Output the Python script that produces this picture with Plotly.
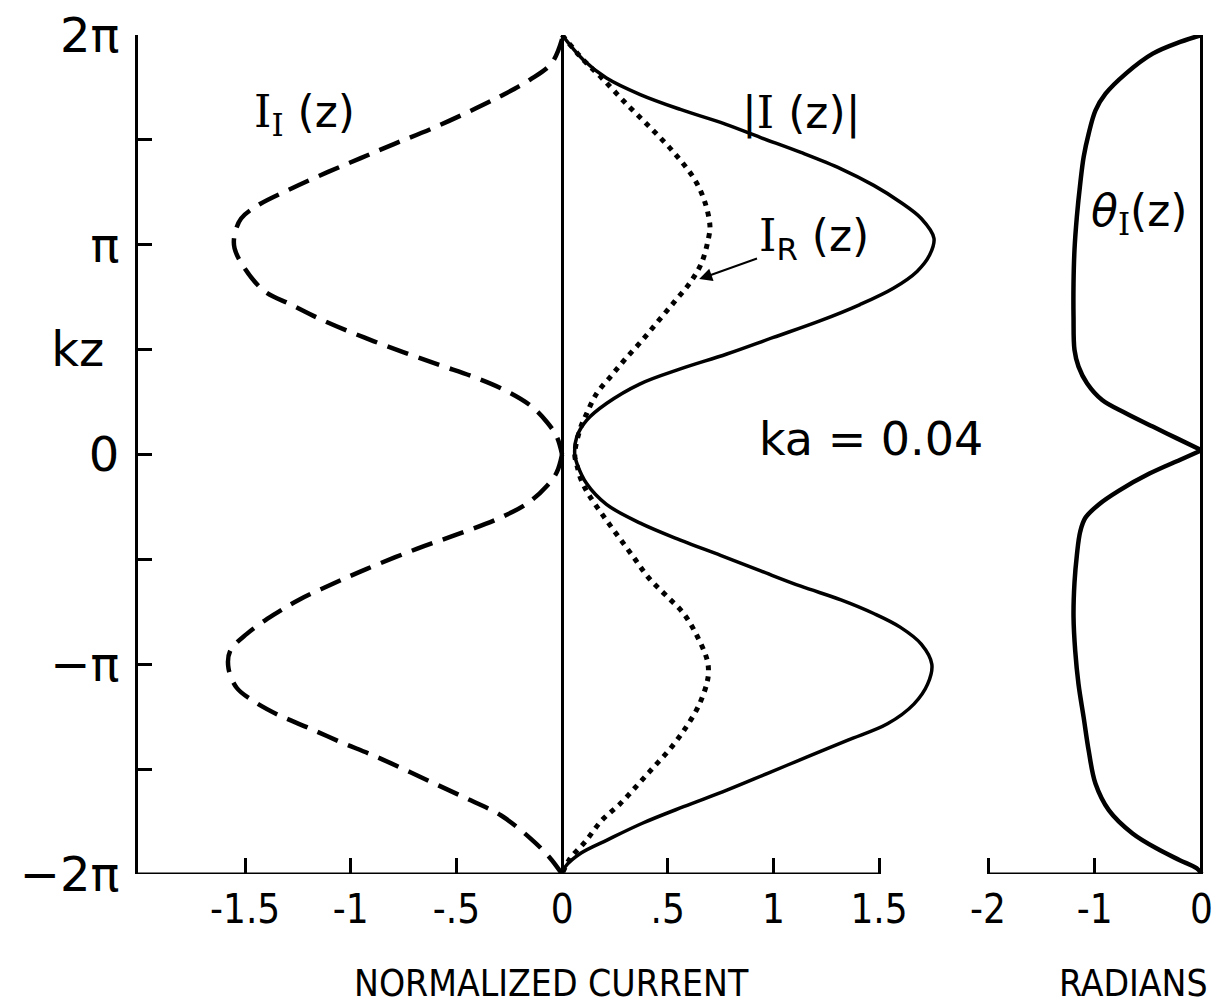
import numpy as np
import plotly.graph_objects as go

PI = np.pi

# kz values are given in units of pi; currents are normalized, phase in radians.

# |I(z)|  (solid)
abs_up_kz = [2.0, 1.882, 1.795, 1.716, 1.645, 1.583, 1.511, 1.44, 1.362, 1.283, 1.204,
             1.125, 1.031, 0.952, 0.873, 0.794, 0.715, 0.637, 0.558, 0.479, 0.408, 0.337,
             0.243, 0.164, 0.085, 0.0]
abs_up_val = [0.0, 0.10, 0.21, 0.37, 0.56, 0.75, 0.94, 1.13, 1.32, 1.475, 1.60,
              1.70, 1.76, 1.74, 1.68, 1.57, 1.41, 1.22, 1.0, 0.78, 0.56, 0.37,
              0.21, 0.117, 0.07, 0.06]
abs_lo_kz = [0.0, -0.042, -0.14, -0.238, -0.327, -0.408, -0.481, -0.555, -0.628, -0.693,
             -0.758, -0.823, -0.904, -1.0, -1.095, -1.19, -1.284, -1.363, -1.442, -1.521,
             -1.6, -1.679, -1.758, -1.837, -1.9, -1.964, -2.0]
abs_lo_val = [0.06, 0.07, 0.117, 0.21, 0.37, 0.56, 0.75, 0.94, 1.13, 1.32,
              1.475, 1.60, 1.70, 1.75, 1.73, 1.665, 1.54, 1.35, 1.16, 0.97,
              0.78, 0.575, 0.38, 0.215, 0.09, 0.016, 0.0]

# I_R(z)  (dotted)
re_up_kz = [2.0, 1.882, 1.795, 1.669, 1.551, 1.433, 1.307, 1.197, 1.087, 1.031, 0.913,
            0.818, 0.732, 0.637, 0.543, 0.456, 0.378, 0.291, 0.196, 0.12, 0.0]
re_up_val = [0.0, 0.10, 0.188, 0.307, 0.425, 0.535, 0.63, 0.678, 0.70, 0.693, 0.66,
             0.605, 0.535, 0.456, 0.378, 0.30, 0.235, 0.164, 0.117, 0.085, 0.06]
re_lo_kz = [0.0, -0.05, -0.12, -0.189, -0.294, -0.392, -0.489, -0.587, -0.668, -0.758,
            -0.863, -0.977, -1.033, -1.088, -1.199, -1.318, -1.412, -1.491, -1.57,
            -1.665, -1.744, -1.847, -1.926, -2.0]
re_lo_val = [0.06, 0.07, 0.09, 0.125, 0.196, 0.267, 0.338, 0.409, 0.488, 0.575,
             0.638, 0.686, 0.693, 0.686, 0.646, 0.575, 0.504, 0.433, 0.362,
             0.275, 0.188, 0.109, 0.038, 0.0]

# I_I(z)  (dashed)
im_up_kz = [1.98, 1.866, 1.787, 1.708, 1.63, 1.551, 1.48, 1.413, 1.346, 1.267, 1.188,
            1.125, 1.046, 0.983, 0.889, 0.779, 0.715, 0.637, 0.558, 0.487, 0.425,
            0.37, 0.31, 0.235, 0.155, 0.085, 0.0]
im_up_val = [0.0, -0.049, -0.151, -0.292, -0.45, -0.623, -0.796, -0.953, -1.11, -1.283,
             -1.44, -1.519, -1.55, -1.55, -1.503, -1.409, -1.283, -1.126, -0.937,
             -0.749, -0.575, -0.418, -0.277, -0.151, -0.072, -0.025, 0.0]
im_lo_kz = [0.0, -0.085, -0.15, -0.23, -0.305, -0.375, -0.45, -0.545, -0.615, -0.69,
            -0.765, -0.855, -0.937, -1.017, -1.112, -1.175, -1.238, -1.30, -1.37,
            -1.435, -1.507, -1.58, -1.65, -1.72, -1.83, -1.92, -2.0]
im_lo_val = [0.0, -0.025, -0.072, -0.16, -0.30, -0.48, -0.688, -0.924, -1.082, -1.24,
             -1.366, -1.492, -1.571, -1.579, -1.54, -1.461, -1.35, -1.208, -1.05,
             -0.893, -0.735, -0.58, -0.43, -0.29, -0.15, -0.06, 0.0]

# theta_I(z)  (radians, right panel)
th_up_kz = [2.0, 1.967, 1.911, 1.816, 1.72, 1.641, 1.53, 1.419, 1.292, 1.133, 0.975,
            0.816, 0.657, 0.499, 0.419, 0.34, 0.26, 0.197, 0.133, 0.078, 0.02]
th_up_val = [0.0, -0.20, -0.457, -0.709, -0.899, -0.993, -1.057, -1.104, -1.136, -1.168,
             -1.19, -1.199, -1.199, -1.19, -1.152, -1.073, -0.931, -0.709, -0.457,
             -0.235, 0.0]
th_lo_kz = [0.02, -0.026, -0.091, -0.172, -0.238, -0.302, -0.367, -0.481, -0.611, -0.774,
            -0.937, -1.096, -1.254, -1.412, -1.57, -1.697, -1.807, -1.886, -1.934,
            -1.973, -2.0]
th_lo_val = [0.0, -0.204, -0.488, -0.773, -0.962, -1.088, -1.136, -1.168, -1.19, -1.199,
             -1.183, -1.152, -1.104, -1.057, -0.993, -0.867, -0.646, -0.393, -0.204,
             -0.045, 0.0]

# axis ticks
cur_ticks = [-1.5, -1, -0.5, 0, 0.5, 1, 1.5]
cur_labels = ["-1.5", "-1", "-.5", "0", ".5", "1", "1.5"]
rad_ticks = [-2, -1, 0]
rad_labels = ["-2", "-1", "0"]
kz_ticks = [-2, -1, 0, 0.5, 1, 2]            # labelled kz ticks (units of pi)
kz_labels = ["−2π", "−π", "0", "kz\u00a0", "π", "2π"]
kz_minor = [-1.5, -0.5, 1.5]                 # unlabelled kz ticks

W, H = 1226, 1008
CUR_RANGE = [-2.007, 1.836]
RAD_RANGE = [-2.075, 0.098]
KZ_RANGE = [-2 * PI, 2 * PI]

INK = "black"
NARROW = "Liberation Sans Narrow, DejaVu Sans Condensed, Liberation Sans"
TICK_FONT = dict(family=NARROW, size=40, color=INK)
LABEL_FONT = dict(family="DejaVu Sans", size=44, color=INK)
SERIF_I = "<span style='font-family:DejaVu Serif'>I</span>"


def pis(vals):
    return [v * PI for v in vals]


fig = go.Figure()

spline = dict(shape="spline", smoothing=1.0)

# |I(z)|
fig.add_trace(go.Scatter(
    x=abs_up_val + abs_lo_val[1:], y=pis(abs_up_kz + abs_lo_kz[1:]),
    mode="lines", line=dict(color=INK, width=3.5, **spline), xaxis="x", yaxis="y"))
# I_R(z)
fig.add_trace(go.Scatter(
    x=re_up_val + re_lo_val[1:], y=pis(re_up_kz + re_lo_kz[1:]),
    mode="lines", line=dict(color=INK, width=5, dash="5px,6px", **spline),
    xaxis="x", yaxis="y"))
# I_I(z): upper and lower branches meet in a cusp at kz = 0
for vals, kz in ((im_up_val, im_up_kz), (im_lo_val, im_lo_kz)):
    fig.add_trace(go.Scatter(
        x=vals, y=pis(kz), mode="lines",
        line=dict(color=INK, width=4.5, dash="22px,11px", **spline),
        xaxis="x", yaxis="y"))
# theta_I(z)
for vals, kz in ((th_up_val, th_up_kz), (th_lo_val, th_lo_kz)):
    fig.add_trace(go.Scatter(
        x=vals, y=pis(kz), mode="lines",
        line=dict(color=INK, width=4.5, **spline),
        xaxis="x2", yaxis="y2"))

fig.update_layout(
    template="none",
    width=W, height=H,
    margin=dict(l=0, r=0, t=35, b=134, pad=0),
    paper_bgcolor="white", plot_bgcolor="white",
    showlegend=False,
    xaxis=dict(domain=[138 / W, 950 / W], range=CUR_RANGE, anchor="y",
               automargin=False, showgrid=False, showline=False,
               zeroline=True, zerolinecolor=INK, zerolinewidth=2.5,
               ticks="inside", ticklen=16, tickwidth=2.5, tickcolor=INK,
               tickvals=cur_ticks, ticktext=cur_labels, tickfont=TICK_FONT,
               ticklabelstandoff=8),
    yaxis=dict(domain=[0, 1], range=KZ_RANGE, anchor="x",
               automargin=False, showgrid=False, zeroline=False,
               showline=True, linecolor=INK, linewidth=3,
               ticks="inside", ticklen=14, tickwidth=3, tickcolor=INK,
               tickvals=pis(kz_ticks), ticktext=kz_labels,
               minor=dict(tickvals=pis(kz_minor), ticks="inside", ticklen=14,
                          tickwidth=3, tickcolor=INK, showgrid=False),
               tickfont=dict(family="DejaVu Sans", size=48, color=INK),
               ticklabelstandoff=6),
    xaxis2=dict(domain=[980 / W, 1212 / W], range=RAD_RANGE, anchor="y2",
                automargin=False, showgrid=False, showline=False,
                zeroline=True, zerolinecolor=INK, zerolinewidth=2.5,
                ticks="inside", ticklen=16, tickwidth=2.5, tickcolor=INK,
                tickvals=rad_ticks, ticktext=rad_labels, tickfont=TICK_FONT,
                ticklabelstandoff=8),
    yaxis2=dict(domain=[0, 1], range=KZ_RANGE, anchor="x2", matches="y",
                visible=False),
)

# bottom axis lines (current axis stops at 1.5, radian axis spans -2..0)
fig.add_shape(type="line", xref="x", yref="y",
              x0=CUR_RANGE[0], x1=cur_ticks[-1], y0=KZ_RANGE[0], y1=KZ_RANGE[0],
              line=dict(color=INK, width=3))
fig.add_shape(type="line", xref="x2", yref="y2",
              x0=rad_ticks[0], x1=rad_ticks[-1], y0=KZ_RANGE[0], y1=KZ_RANGE[0],
              line=dict(color=INK, width=3))

# curve labels
fig.add_annotation(x=-1.22, y=1.62 * PI, xref="x", yref="y", showarrow=False,
                   text=SERIF_I + "<sub>" + SERIF_I + "</sub> (z)", font=LABEL_FONT)
fig.add_annotation(x=1.13, y=1.63 * PI, xref="x", yref="y", showarrow=False,
                   text="|" + SERIF_I + " (z)|", font=LABEL_FONT)
fig.add_annotation(x=0.64, y=0.833 * PI, xref="x", yref="y",
                   ax=1.19, ay=1.03 * PI, axref="x", ayref="y",
                   text=SERIF_I + "<sub>R</sub> (z)", font=LABEL_FONT,
                   showarrow=True, arrowhead=2, arrowsize=1.3, arrowwidth=2,
                   arrowcolor=INK, standoff=2)
fig.add_annotation(x=1.46, y=0.076 * PI, xref="x", yref="y", showarrow=False,
                   text="ka = 0.04",
                   font=dict(family="DejaVu Sans", size=46, color=INK))
fig.add_annotation(x=-0.58, y=1.15 * PI, xref="x2", yref="y2", showarrow=False,
                   text="<i>θ</i><sub>" + SERIF_I + "</sub>(z)", font=LABEL_FONT)

# axis titles
TITLE_FONT = dict(family=NARROW, size=37, color=INK)
fig.add_annotation(x=551 / W, y=-0.13, xref="paper", yref="paper", showarrow=False,
                   xanchor="center", yanchor="middle",
                   text="NORMALIZED CURRENT", font=TITLE_FONT)
fig.add_annotation(x=1133 / W, y=-0.13, xref="paper", yref="paper", showarrow=False,
                   xanchor="center", yanchor="middle",
                   text="RADIANS", font=TITLE_FONT)

fig.write_html("out.html")
